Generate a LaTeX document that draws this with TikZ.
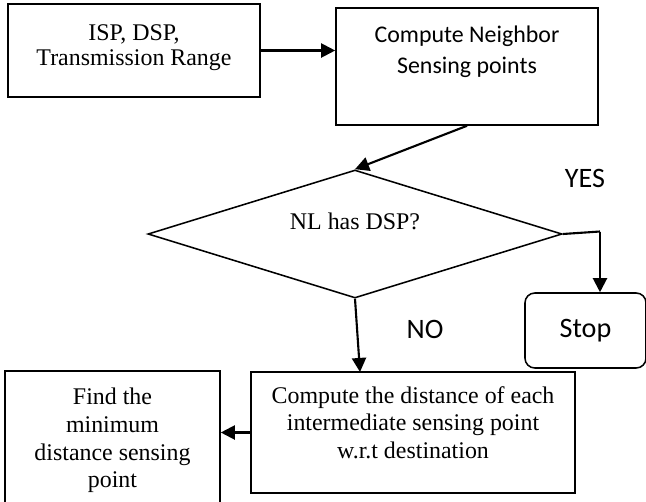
\documentclass[tikz,border=0pt]{standalone}
\usepackage{fontspec}
\setmainfont{Liberation Serif}
\newfontfamily\calibrifont{Carlito}
\usetikzlibrary{shapes.geometric,arrows.meta}

\begin{document}
\begin{tikzpicture}[x=0.025cm,y=-0.025cm,
	box/.style={draw,line width=1.1pt,inner sep=0pt},
	flow/.style={-{Triangle[length=10pt,width=10pt]},line width=1.5pt},
	serif/.style={font=\fontsize{17}{19.6}\selectfont,align=center},
	sans/.style={font=\calibrifont\fontsize{17}{22}\selectfont,align=center},
	tag/.style={font=\calibrifont\fontsize{20}{24}\selectfont}]
			\useasboundingbox (0,0) rectangle (646,501);
			\node[box,minimum width=6.3cm,minimum height=2.325cm,label={[serif,font=\fontsize{17}{17.7}\selectfont,yshift=1.8pt]center:{ISP, DSP,\\Transmission Range}}] (isp) at (134,50.5){};
			\node[box,minimum width=6.55cm,minimum height=2.925cm,label={[sans,yshift=10.6pt]center:{Compute Neighbor\\Sensing points}}] (nbr) at (467,66.5){};
			\node[box,diamond,minimum width=10.35cm,minimum height=3.2cm,label={[serif,yshift=9.2pt]center:{NL has DSP?}}] (dec) at (355,234){};
			\node[box,rounded corners=7pt,minimum width=3.025cm,minimum height=1.875cm,tag] (stop) at (585.5,330.5){Stop};
			\node[box,minimum width=8.1cm,minimum height=3.025cm,label={[serif,yshift=7pt]center:{Compute the distance of each\\intermediate sensing point\\w.r.t destination}}] (dist) at (413,432.5){};
			\node[box,minimum width=5.375cm,minimum height=3.475cm,label={[serif]center:{Find the\\minimum\\distance sensing\\point}}] (find) at (112.5,440.5){};
			\node[tag] (yes) at (585,178.5){YES};
			\node[tag] (no) at (425,329.5){NO};
			\coordinate (yesturn) at (600,231.5);
			\coordinate (noend) at (360,372);
			\draw[flow] (isp.east) -- (isp.east -| nbr.west);
			\draw[flow] (nbr.south) -- (dec.north);
			\draw[line width=1.5pt] (dec.east) -- (yesturn);
			\draw[flow] (yesturn) -- (yesturn |- stop.north);
			\draw[flow] (dec.south) -- (noend);
			\draw[flow] (dist.west) -- (dist.west -| find.east);
		\end{tikzpicture}
\end{document}
